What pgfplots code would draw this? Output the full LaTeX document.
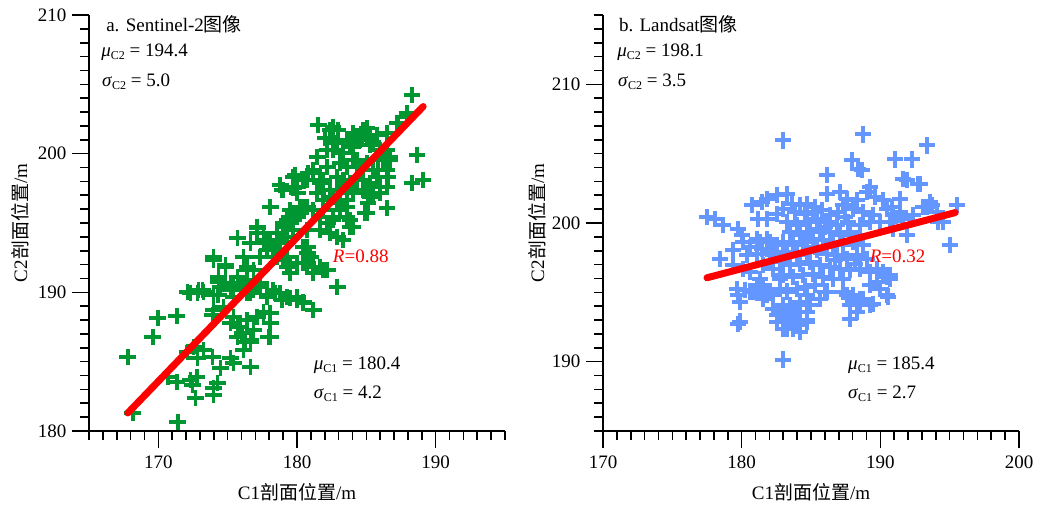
\documentclass[border=0pt]{standalone}
\usepackage{fontspec}
\setmainfont{Liberation Serif}
\newfontfamily\cjk{Noto Sans CJK SC}
\usepackage{pgfplots}
\pgfplotsset{compat=1.18}
\definecolor{sgreen}{RGB}{0,150,50}
\definecolor{lblue}{RGB}{100,150,255}
\pgfplotstableread{
x y
167.79 185.34
168.15 181.30
169.59 186.78
169.95 188.15
171.32 188.29
171.39 180.65
170.67 183.89
171.32 183.53
172.32 183.68
172.76 183.89
172.47 183.32
172.68 182.38
173.98 183.10
173.98 182.60
174.27 183.46
172.11 185.70
172.54 186.06
172.83 185.26
173.26 185.84
173.91 185.34
174.48 184.54
175.20 185.26
175.42 184.90
176.64 184.61
173.91 188.36
174.70 188.94
175.20 187.79
175.71 187.50
176.06 187.07
176.28 186.42
176.64 186.42
176.14 185.84
177.94 186.78
172.32 189.95
172.83 189.95
173.19 190.17
174.34 189.81
174.34 190.74
175.42 190.38
175.92 190.67
176.42 189.95
176.86 190.17
177.36 190.38
177.86 189.81
178.43 189.95
178.94 189.44
179.52 189.59
180.02 189.44
180.45 189.23
178.08 188.51
177.58 188.58
177.14 188.22
176.42 188.00
181.53 202.06
182.61 201.92
182.97 201.70
185.06 201.85
185.27 201.34
184.70 201.20
186.50 201.49
187.22 202.21
187.93 202.64
188.65 199.90
188.29 197.88
189.09 198.10
181.46 199.75
182.18 200.26
182.90 200.76
183.62 200.98
184.05 200.48
184.55 200.98
185.49 200.84
185.99 200.26
186.21 199.54
186.71 199.75
186.50 198.82
183.11 199.32
183.62 199.03
184.05 199.54
184.55 199.03
185.06 199.32
185.49 198.82
182.90 198.31
183.33 198.10
183.83 197.88
184.34 198.31
184.77 198.10
185.27 197.88
185.78 198.31
185.99 197.59
185.06 197.38
185.49 196.87
184.05 197.16
183.11 197.38
182.61 196.87
181.17 198.60
180.74 198.10
181.68 197.88
181.46 197.16
181.89 196.65
182.40 197.38
179.73 198.31
179.01 197.38
180.02 197.16
178.80 197.74
178.08 196.15
177.14 194.71
175.71 193.92
179.52 195.93
180.02 195.43
180.74 196.15
181.17 195.93
181.68 195.43
182.18 195.00
182.61 195.43
183.11 195.93
183.62 196.15
183.83 195.21
182.90 193.99
183.33 193.77
184.05 194.71
184.91 195.72
186.50 196.08
185.13 196.44
179.01 195.00
178.58 194.28
178.08 193.55
178.80 193.55
179.30 193.99
179.73 194.49
177.14 194.28
177.58 193.77
176.64 193.55
177.86 193.05
177.36 192.55
178.58 192.55
179.01 192.33
179.30 191.82
179.52 191.39
180.02 192.11
180.74 192.83
180.74 192.11
181.17 191.39
181.68 191.82
182.18 191.61
182.90 190.38
173.98 192.55
174.84 191.97
176.14 192.55
175.71 191.10
176.42 190.67
176.86 191.61
176.42 191.82
173.26 190.02
174.34 191.10
174.48 190.38
173.98 189.81
175.20 190.67
175.42 189.66
176.14 190.31
176.64 189.95
177.36 190.67
177.86 189.66
178.29 190.17
178.80 189.95
179.30 189.66
180.02 189.66
180.45 189.30
181.17 188.72
173.98 188.72
175.42 188.22
177.58 188.51
178.08 187.79
175.92 187.50
176.86 187.28
175.71 186.78
176.64 186.56
178.08 186.78
172.11 190.02
188.29 204.22
187.93 202.93
187.29 202.21
182.40 201.70
182.04 201.12
182.61 200.98
184.05 201.49
184.77 201.70
185.78 201.34
185.27 200.62
186.50 200.26
186.71 199.54
186.57 198.31
186.50 197.59
185.99 197.16
185.27 196.87
185.06 195.72
185.85 198.82
184.34 199.54
183.33 200.04
182.61 200.26
183.83 200.76
182.18 199.03
181.17 198.82
181.89 198.10
183.33 197.59
184.34 198.10
184.77 197.38
183.62 196.65
182.90 196.44
181.89 195.93
182.61 195.21
183.62 195.43
183.83 194.71
182.40 194.28
181.68 194.49
179.88 198.31
180.02 197.59
180.24 196.15
179.73 195.21
180.74 194.49
180.74 193.27
180.96 192.55
181.17 191.82
181.89 191.61
179.88 198.46
180.45 198.10
180.81 198.60
178.94 197.38
179.73 197.52
180.02 195.72
180.45 196.15
179.30 195.21
179.01 194.71
177.14 194.64
177.58 194.28
177.86 193.55
178.58 193.77
178.29 193.05
179.30 192.55
179.52 191.82
180.45 193.27
180.45 192.11
173.98 192.33
174.84 191.82
174.34 190.89
176.42 191.61
176.86 190.89
176.14 190.38
175.20 190.17
172.90 190.17
174.27 189.81
}\sentinel
\pgfplotstableread{
x y
182.98 205.97
188.75 206.40
193.36 205.61
191.05 204.60
192.28 204.60
187.95 204.53
188.39 203.88
188.67 203.81
186.15 203.45
191.92 203.09
192.86 202.81
189.25 202.59
186.15 202.09
187.09 202.23
187.59 201.73
188.31 201.65
189.03 202.23
189.61 201.87
190.19 201.65
190.84 201.15
191.41 201.73
191.41 200.79
193.58 201.51
193.07 201.15
194.08 200.79
194.51 200.07
195.52 201.29
195.02 198.42
191.92 199.14
190.69 200.07
191.63 200.29
190.91 199.57
177.50 200.43
178.07 200.29
178.65 199.86
179.73 199.57
180.02 199.14
180.74 201.29
181.46 201.51
181.82 201.73
182.55 202.01
183.27 202.09
181.18 200.29
181.82 200.29
182.55 200.65
182.98 201.01
183.63 201.37
184.20 201.29
184.71 201.37
185.14 200.79
185.79 200.94
186.37 200.58
186.94 200.79
187.30 201.29
188.02 201.01
188.75 200.79
189.47 200.58
189.97 200.07
187.66 200.07
188.53 199.86
189.25 200.07
178.44 197.41
179.37 198.06
180.09 198.63
180.60 198.27
180.38 197.70
181.32 198.63
181.10 197.77
181.82 198.85
182.04 197.91
182.55 198.42
183.27 200.07
183.99 199.86
184.71 200.07
185.43 200.29
186.15 200.07
186.87 199.86
183.48 199.35
184.20 199.14
184.92 199.35
185.65 199.57
186.37 199.35
187.09 199.14
187.81 199.35
188.53 199.14
182.98 198.63
183.70 198.42
184.42 198.63
185.14 198.85
185.86 198.78
186.58 198.49
187.30 198.42
188.02 198.63
188.75 198.42
183.27 197.91
183.99 197.70
184.71 197.91
185.43 198.06
186.15 197.77
186.87 197.70
187.59 197.41
188.31 197.70
189.03 197.41
182.76 197.19
183.48 196.98
184.20 197.05
184.92 197.19
185.65 196.98
186.37 196.83
187.09 196.69
187.81 196.62
188.53 196.69
189.25 196.47
182.98 196.26
183.70 196.12
184.42 196.26
185.14 196.33
185.86 196.12
186.58 195.97
187.30 195.97
179.66 195.25
180.60 195.04
181.32 195.54
182.04 195.04
179.88 194.32
181.54 194.53
182.26 194.82
183.27 195.04
183.99 195.25
184.71 194.82
182.98 194.10
183.48 193.81
184.20 194.32
184.92 194.10
182.76 193.38
183.48 193.09
183.99 192.88
184.71 192.88
182.98 192.37
183.70 192.37
184.20 192.16
187.30 195.04
188.02 194.82
188.75 194.53
189.47 194.17
187.81 194.10
188.53 194.32
190.48 196.26
190.48 194.82
189.97 195.25
187.81 193.09
179.88 192.88
179.73 194.82
180.24 195.18
180.81 195.04
181.54 195.25
179.73 192.73
182.98 190.14
182.55 193.38
183.27 192.37
183.70 193.02
184.20 192.66
184.71 193.02
183.48 194.10
184.71 193.60
185.65 194.53
186.15 195.04
187.59 194.82
188.53 194.53
189.25 194.10
188.31 193.60
190.55 194.68
190.48 196.12
194.15 200.07
193.36 201.15
193.72 201.29
192.35 200.58
191.41 200.58
190.91 200.65
190.48 201.01
192.71 202.81
191.63 203.17
190.19 196.47
190.69 195.97
189.75 195.76
181.10 198.85
181.46 198.13
182.04 198.63
182.26 197.70
182.98 197.70
181.54 196.98
182.26 196.69
182.76 195.97
181.32 195.97
180.60 196.47
180.09 196.69
179.37 196.98
181.10 195.25
181.82 194.82
182.76 195.25
182.26 193.81
183.27 193.38
184.20 193.60
182.55 192.88
189.75 196.69
190.69 196.26
189.25 195.54
190.48 194.82
183.84 200.79
185.29 201.15
184.56 200.65
186.01 199.71
187.45 200.43
185.29 198.27
186.73 197.34
188.17 197.05
184.56 195.40
186.01 195.04
185.29 195.54
}\landsat
\tikzset{anno/.style={anchor=west, font=\fontsize{19}{23}\selectfont, inner sep=0pt}}
\pgfplotsset{
  every axis/.append style={font=\fontsize{19}{23}\selectfont},
  myaxis/.style={
    scale only axis, width=416pt, height=416pt,
    axis x line*=bottom, axis y line*=left,
    axis line style={line width=1.8pt},
    tick align=outside,
    major tick length=17pt, minor tick length=9pt,
    every tick/.style={black, line width=1.6pt},
    /pgf/number format/assume math mode=true,
    ticklabel style={font=\fontsize{19}{23}\selectfont},
    x tick label style={yshift=-4pt},
    y tick label style={xshift=-2pt},
    clip=false,
    clip marker paths=true,
    x label style={at={(axis description cs:0.5,-0.147)}, anchor=center},
    xlabel={C1{\cjk 剖面位置}/m},
    ylabel={C2{\cjk 剖面位置}/m},
  },
}
\newcommand{\sub}[1]{\raisebox{-0.35ex}{\fontsize{12}{14}\selectfont #1}}
\begin{document}
\begin{tikzpicture}
\path[use as bounding box] (0,0) rectangle (1037pt,504pt);
\begin{axis}[myaxis, at={(89pt,73pt)}, anchor=south west,
  xmin=165, xmax=195, ymin=180, ymax=210,
  xtick={170,180,190}, minor xtick={165,...,195},
  ytick={180,190,200,210}, minor ytick={180,...,210},
  y label style={at={(axis description cs:-0.166,0.5)}, anchor=center},
]
\addplot[only marks, mark=+, mark size=8.3pt, draw=sgreen, mark options={line width=3.8pt, draw=sgreen}] table[x=x,y=y] {\sentinel};
\addplot[red, line width=7pt, line cap=round] coordinates {(167.8,181.3) (189.1,203.4)};
\node[anno] at (rel axis cs:0.041,0.978) {a. Sentinel-2{\cjk 图像}};
\node[anno] at (rel axis cs:0.029,0.911) {\textit{μ}\sub{C2} = 194.4};
\node[anno] at (rel axis cs:0.031,0.839) {\textit{σ}\sub{C2} = 5.0};
\node[anno] at (rel axis cs:0.54,0.159) {\textit{μ}\sub{C1} = 180.4};
\node[anno] at (rel axis cs:0.54,0.089) {\textit{σ}\sub{C1} = 4.2};
\node[anno, text=red] at (rel axis cs:0.586,0.42) {\textit{R}=0.88};
\end{axis}
\begin{axis}[myaxis, at={(603pt,73pt)}, anchor=south west,
  xmin=170, xmax=200, ymin=185, ymax=215,
  xtick={170,180,190,200}, minor xtick={170,...,200},
  ytick={190,200,210}, minor ytick={185,...,215},
  y label style={at={(axis description cs:-0.159,0.5)}, anchor=center},
]
\addplot[only marks, mark=+, mark size=8.3pt, draw=lblue, mark options={line width=3.8pt, draw=lblue}] table[x=x,y=y] {\landsat};
\addplot[red, line width=7pt, line cap=round] coordinates {(177.5,196.05) (195.4,200.75)};
\node[anno] at (rel axis cs:0.038,0.978) {b. Landsat{\cjk 图像}};
\node[anno] at (rel axis cs:0.034,0.911) {\textit{μ}\sub{C2} = 198.1};
\node[anno] at (rel axis cs:0.036,0.839) {\textit{σ}\sub{C2} = 3.5};
\node[anno] at (rel axis cs:0.589,0.159) {\textit{μ}\sub{C1} = 185.4};
\node[anno] at (rel axis cs:0.589,0.089) {\textit{σ}\sub{C1} = 2.7};
\node[anno, text=red] at (rel axis cs:0.641,0.42) {\textit{R}=0.32};
\end{axis}
\end{tikzpicture}
\end{document}
